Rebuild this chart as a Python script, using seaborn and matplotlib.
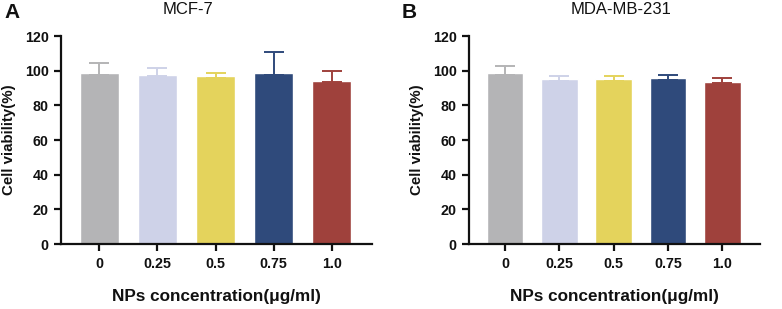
import matplotlib
matplotlib.use("Agg")
import matplotlib.pyplot as plt
import seaborn as sns
import pandas as pd
import numpy as np

concentrations = ["0", "0.25", "0.5", "0.75", "1.0"]
mcf7_mean = [98.5, 97.7, 96.7, 98.5, 94.2]
mcf7_sd = [6.1, 3.7, 1.8, 12.0, 5.6]
mda_mean = [98.7, 95.0, 95.0, 95.8, 93.7]
mda_sd = [4.2, 1.9, 2.1, 1.7, 2.1]
colors = ["#b4b4b6", "#ced2e8", "#e4d35c", "#2f4a7b", "#9f413c"]
panel_titles = ["MCF-7", "MDA-MB-231"]
panel_letters = ["A", "B"]

sns.set_theme(style="ticks")
plt.rcParams['font.family'] = ['Liberation Sans', 'DejaVu Sans']
plt.rcParams['text.color'] = '#111111'
plt.rcParams['axes.labelcolor'] = '#111111'
plt.rcParams['xtick.color'] = '#111111'
plt.rcParams['ytick.color'] = '#111111'

fig = plt.figure(figsize=(7.82, 3.09), dpi=100)
W, H = 782, 309
axes_px = [(61, 372), (469, 760)]
top_px, bot_px = 36, 244

datasets = [(mcf7_mean, mcf7_sd), (mda_mean, mda_sd)]
title_x = [188, 621]
letter_x = [4, 402]

for i, ((l, r), (means, sds)) in enumerate(zip(axes_px, datasets)):
    ax = fig.add_axes([l / W, 1 - bot_px / H, (r - l) / W, (bot_px - top_px) / H])
    df = pd.DataFrame({"conc": concentrations, "viab": means})
    sns.barplot(data=df, x="conc", y="viab", hue="conc", palette=colors,
                legend=False, width=0.67, ax=ax, errorbar=None, saturation=1)
    xs = np.arange(len(concentrations))
    for x, m, s, c in zip(xs, means, sds, colors):
        ax.errorbar([x], [m - 1.0], yerr=[[0], [s + 1.0]], fmt="none", ecolor=c,
                    elinewidth=1.4, capsize=7.5, capthick=1.4, zorder=3)
    ax.set_xlim(-0.66, 4.69)
    ax.set_ylim(0, 120)
    ax.set_yticks(range(0, 121, 20))
    for side in ["top", "right"]:
        ax.spines[side].set_visible(False)
    for side in ["left", "bottom"]:
        ax.spines[side].set_linewidth(1.6)
        ax.spines[side].set_color("#111111")
    ax.tick_params(axis="both", width=1.6, length=5, color="#111111",
                   labelsize=10.3, pad=4)
    for lab in ax.get_xticklabels() + ax.get_yticklabels():
        lab.set_fontweight("bold")
    ax.set_xlabel("NPs concentration(μg/ml)", fontsize=12.3, fontweight="bold", labelpad=13)
    ax.set_ylabel("Cell viability(%)", fontsize=10.8, fontweight="bold", labelpad=6)
    fig.text(title_x[i] / W, 1 - 10 / H, panel_titles[i], ha="center", va="center",
             fontsize=12)
    fig.text(letter_x[i] / W, 1 - 12 / H, panel_letters[i], ha="left", va="center",
             fontsize=15, fontweight="bold")

fig.savefig("out.png", dpi=100)
